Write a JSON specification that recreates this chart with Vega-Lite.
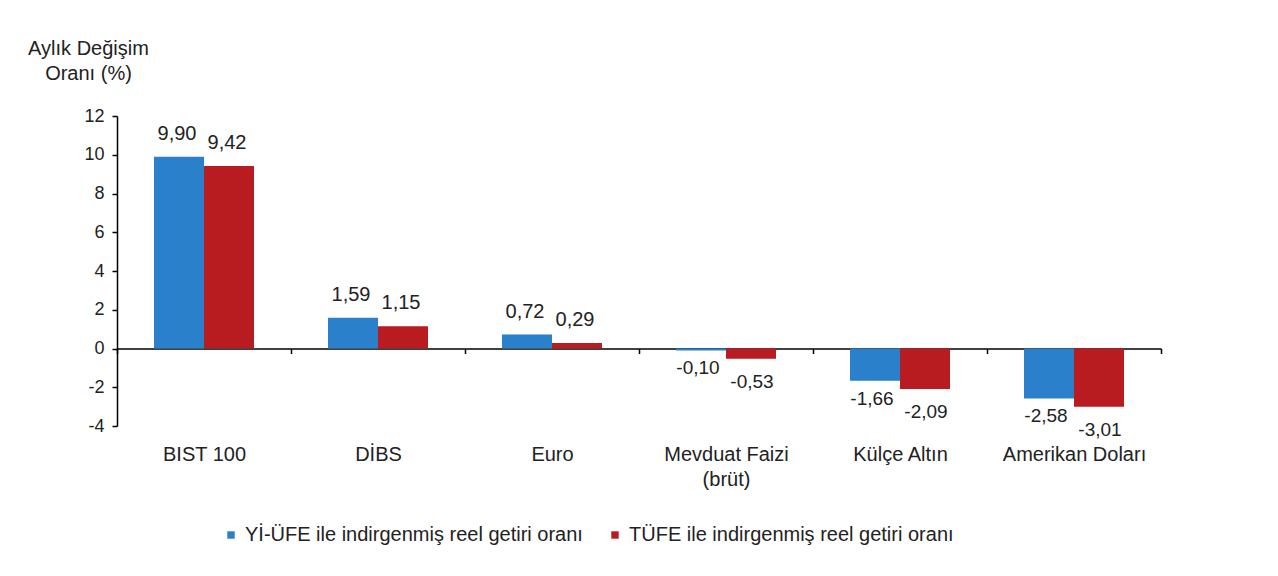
{
  "$schema": "https://vega.github.io/schema/vega-lite/v6.json",
  "width": 1044,
  "height": 310,
  "autosize": {"type": "none"},
  "padding": {"left": 117, "top": 116, "right": 117, "bottom": 150},
  "background": "white",
  "config": {
    "view": {"stroke": null},
    "font": "Liberation Sans",
    "locale": {"number": {"decimal": ",", "thousands": ".", "grouping": [3], "currency": ["", " TL"], "minus": "-"}}
  },
  "data": {
    "values": [
      {"kategori": "BIST 100", "seri": "Yİ-ÜFE ile indirgenmiş reel getiri oranı", "deger": 9.90},
      {"kategori": "BIST 100", "seri": "TÜFE ile indirgenmiş reel getiri oranı", "deger": 9.42},
      {"kategori": "DİBS", "seri": "Yİ-ÜFE ile indirgenmiş reel getiri oranı", "deger": 1.59},
      {"kategori": "DİBS", "seri": "TÜFE ile indirgenmiş reel getiri oranı", "deger": 1.15},
      {"kategori": "Euro", "seri": "Yİ-ÜFE ile indirgenmiş reel getiri oranı", "deger": 0.72},
      {"kategori": "Euro", "seri": "TÜFE ile indirgenmiş reel getiri oranı", "deger": 0.29},
      {"kategori": "Mevduat Faizi (brüt)", "seri": "Yİ-ÜFE ile indirgenmiş reel getiri oranı", "deger": -0.10},
      {"kategori": "Mevduat Faizi (brüt)", "seri": "TÜFE ile indirgenmiş reel getiri oranı", "deger": -0.53},
      {"kategori": "Külçe Altın", "seri": "Yİ-ÜFE ile indirgenmiş reel getiri oranı", "deger": -1.66},
      {"kategori": "Külçe Altın", "seri": "TÜFE ile indirgenmiş reel getiri oranı", "deger": -2.09},
      {"kategori": "Amerikan Doları", "seri": "Yİ-ÜFE ile indirgenmiş reel getiri oranı", "deger": -2.58},
      {"kategori": "Amerikan Doları", "seri": "TÜFE ile indirgenmiş reel getiri oranı", "deger": -3.01}
    ]
  },
  "encoding": {
    "x": {
      "field": "kategori",
      "type": "nominal",
      "sort": null,
      "scale": {"paddingInner": 0, "paddingOuter": 0},
      "axis": {
        "title": null,
        "labelAngle": 0,
        "offset": -77.5,
        "domainColor": "#000000",
        "domainWidth": 1.5,
        "tickColor": "#000000",
        "tickWidth": 1.5,
        "tickSize": 5,
        "tickBand": "extent",
        "labelPadding": 91,
        "labelFontSize": 20,
        "labelColor": "#222222",
        "labelBaseline": "top",
        "labelLineHeight": 25,
        "labelExpr": "datum.label == 'Mevduat Faizi (brüt)' ? ['Mevduat Faizi', '(brüt)'] : datum.label"
      }
    },
    "xOffset": {"field": "seri", "type": "nominal", "sort": null, "scale": {"paddingInner": 0, "paddingOuter": 0.74}},
    "y": {
      "field": "deger",
      "type": "quantitative",
      "scale": {"domain": [-4, 12], "nice": false, "zero": false},
      "axis": {
        "values": [-4, -2, 0, 2, 4, 6, 8, 10, 12],
        "grid": false,
        "domainColor": "#000000",
        "domainWidth": 1.5,
        "tickColor": "#000000",
        "tickWidth": 1.5,
        "tickSize": 5,
        "labelFontSize": 18,
        "labelColor": "#222222",
        "labelPadding": 8,
        "title": ["Aylık Değişim", "Oranı (%)"],
        "titleAngle": 0,
        "titleAlign": "center",
        "titleBaseline": "top",
        "titleX": -29,
        "titleY": -78,
        "titleFontSize": 20,
        "titleFontWeight": "normal",
        "titleColor": "#222222",
        "titleLineHeight": 25
      }
    }
  },
  "layer": [
    {
      "mark": {"type": "bar"},
      "encoding": {
        "color": {
          "field": "seri",
          "type": "nominal",
          "sort": null,
          "scale": {"range": ["#2b80cb", "#b81c20"]},
          "legend": {
            "title": null,
            "orient": "none",
            "direction": "horizontal",
            "legendX": 104,
            "legendY": 409,
            "symbolType": "square",
            "symbolSize": 55,
            "symbolStrokeWidth": 0,
            "labelFontSize": 20,
            "labelLimit": 600,
            "labelColor": "#222222",
            "labelOffset": 4,
            "columnPadding": 22
          }
        }
      }
    },
    {
      "transform": [{"filter": "datum.deger >= 0"}],
      "mark": {"type": "text", "baseline": "bottom", "dy": -13, "dx": -2, "fontSize": 20, "color": "#222222"},
      "encoding": {"text": {"field": "deger", "type": "quantitative", "format": ".2f"}}
    },
    {
      "transform": [{"filter": "datum.deger < 0 && datum.seri == 'Yİ-ÜFE ile indirgenmiş reel getiri oranı'"}],
      "mark": {"type": "text", "baseline": "top", "dy": 9, "dx": -3, "fontSize": 19, "color": "#222222"},
      "encoding": {"text": {"field": "deger", "type": "quantitative", "format": ".2f"}}
    },
    {
      "transform": [{"filter": "datum.deger < 0 && datum.seri == 'TÜFE ile indirgenmiş reel getiri oranı'"}],
      "mark": {"type": "text", "baseline": "top", "dy": 14, "dx": 1, "fontSize": 19, "color": "#222222"},
      "encoding": {"text": {"field": "deger", "type": "quantitative", "format": ".2f"}}
    }
  ]
}
